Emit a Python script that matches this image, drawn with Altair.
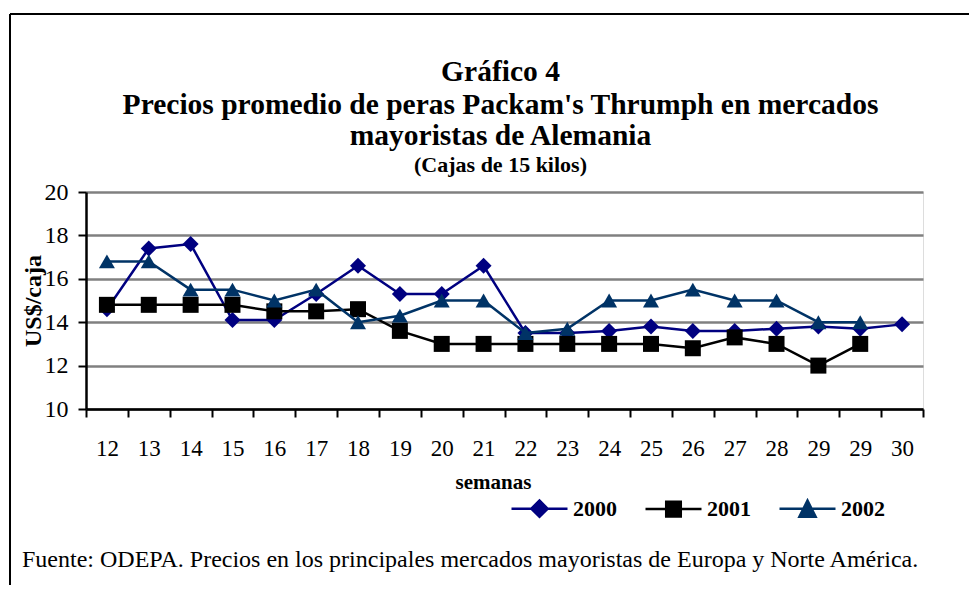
import altair as alt
import pandas as pd

weeks = ["12", "13", "14", "15", "16", "17", "18", "19", "20", "21",
         "22", "23", "24", "25", "26", "27", "28", "29", "29", "30"]
s2000 = [14.6, 17.4, 17.6, 14.1, 14.1, 15.3, 16.6, 15.3, 15.3, 16.6,
         13.5, 13.5, 13.6, 13.8, 13.6, 13.6, 13.7, 13.8, 13.7, 13.9]
s2001 = [14.8, 14.8, 14.8, 14.8, 14.5, 14.5, 14.6, 13.6, 13.0, 13.0,
         13.0, 13.0, 13.0, 13.0, 12.8, 13.3, 13.0, 12.0, 13.0, None]
s2002 = [16.8, 16.8, 15.5, 15.5, 15.0, 15.5, 14.0, 14.3, 15.0, 15.0,
         13.5, 13.7, 15.0, 15.0, 15.5, 15.0, 15.0, 14.0, 14.0, None]
series = ["2000", "2001", "2002"]
colors = ["#000080", "#000000", "#003366"]
shapes = ["diamond", "square", "triangle-up"]
legend_paths = [
    "M-1,0H1M-0.29,0L0,-0.29L0.29,0L0,0.29Z",
    "M-1,0H1M-0.26,-0.26H0.26V0.26H-0.26Z",
    "M-1,0H1M0,-0.29L0.29,0.29H-0.29Z",
]
title_lines = ["Gráfico 4",
               "Precios promedio de peras Packam's Thrumph en mercados",
               "mayoristas de Alemania"]
subtitle = "(Cajas de 15 kilos)"
footer = "Fuente: ODEPA. Precios en los principales mercados mayoristas de Europa y Norte América."

W, H = 837, 217
FONT = "Liberation Serif"

rows = []
for name, vals in zip(series, [s2000, s2001, s2002]):
    for i, v in enumerate(vals):
        if v is not None:
            rows.append({"idx": i, "serie": name, "value": v})
df = pd.DataFrame(rows)

n = len(weeks)
label_expr = "[" + ",".join(f"'{w}'" for w in weeks) + "][round(datum.value + 0.5)] || ''"

x_scale = alt.Scale(domain=[-0.5, n - 0.5], nice=False, zero=False)
y_scale = alt.Scale(domain=[10, 20], nice=False, zero=False)

x_axis = alt.Axis(values=[i - 0.5 for i in range(n + 1)], labelExpr=label_expr,
                  labelOffset=W / n / 2, labelOverlap=False, labelFlush=False,
                  grid=False, domainColor="black", domainWidth=2.5,
                  tickColor="black", tickWidth=2, tickSize=8,
                  labelFont=FONT, labelFontSize=23, labelColor="black", labelPadding=20,
                  title="semanas", titleFont=FONT, titleFontSize=21, titleFontWeight="bold",
                  titleColor="black", titleX=407, titleY=73, titleBaseline="middle")
y_axis = alt.Axis(values=[10, 12, 14, 16, 18, 20], grid=True, gridColor="#808080", gridWidth=2.5,
                  domainColor="black", domainWidth=2.5, tickColor="black", tickWidth=2, tickSize=8,
                  labelFont=FONT, labelFontSize=24, labelColor="black", labelPadding=10,
                  title="US$/caja", titleFont=FONT, titleFontSize=24, titleFontWeight="bold",
                  titleColor="black", titlePadding=-1)

X = alt.X("idx:Q", scale=x_scale, axis=x_axis)
Y = alt.Y("value:Q", scale=y_scale, axis=y_axis)

layers = []
for name, color, shape in zip(series, colors, shapes):
    layers.append(
        alt.Chart(df).transform_filter(alt.datum.serie == name).mark_line(
            color=color, strokeWidth=2.5,
            point=alt.OverlayMarkDef(shape=shape, size=256, filled=True, color=color, opacity=1)
        ).encode(x=X, y=Y)
    )

leg = alt.Legend(orient="none", legendX=424, legendY=287, direction="horizontal", title=None,
                 labelFont=FONT, labelFontSize=22, labelFontWeight="bold", labelColor="black",
                 symbolSize=3136, symbolStrokeWidth=2.5, labelOffset=4, columnPadding=23)
legend_df = pd.DataFrame({"serie": series, "idx": [0, 1, 2], "value": [5, 5, 5]})
layers.append(
    alt.Chart(legend_df).mark_point(filled=True, clip=True, opacity=1, strokeWidth=2.5).encode(
        x=X, y=Y,
        shape=alt.Shape("serie:N", scale=alt.Scale(domain=series, range=legend_paths), legend=leg),
        fill=alt.Fill("serie:N", scale=alt.Scale(domain=series, range=colors), legend=leg),
        stroke=alt.Stroke("serie:N", scale=alt.Scale(domain=series, range=colors), legend=leg),
    )
)

text_df = pd.DataFrame({"k": [0]})
CX = W / 2 - 4
title_specs = [(title_lines[0], 29.5, -120), (title_lines[1], 29.5, -87),
               (title_lines[2], 29.5, -56), (subtitle, 22, -27)]
for txt, size, yy in title_specs:
    layers.append(
        alt.Chart(text_df).mark_text(align="center", baseline="middle", font=FONT, fontSize=size,
                                     fontWeight="bold", color="black", text=txt).encode(
            x=alt.value(CX), y=alt.value(yy))
    )

layers.append(
    alt.Chart(text_df).mark_text(align="left", baseline="middle", font=FONT, fontSize=24,
                                 color="black", text=footer).encode(
        x=alt.value(-64), y=alt.value(368))
)

layers.append(alt.Chart(text_df).mark_rule(color="black", strokeWidth=2).encode(
    x=alt.value(-76), x2=alt.value(900), y=alt.value(-178)))
layers.append(alt.Chart(text_df).mark_rule(color="black", strokeWidth=2).encode(
    x=alt.value(-76), y=alt.value(-178), y2=alt.value(400)))

chart = alt.layer(*layers).properties(
    width=W, height=H,
    autosize=alt.AutoSizeParams(type="none"),
    padding={"left": 78, "top": 184, "right": 46, "bottom": 176},
).configure_view(stroke="#808080", strokeWidth=2.5).configure(background="white")

chart.save("out.html", embed_options={"renderer": "svg", "actions": False})
